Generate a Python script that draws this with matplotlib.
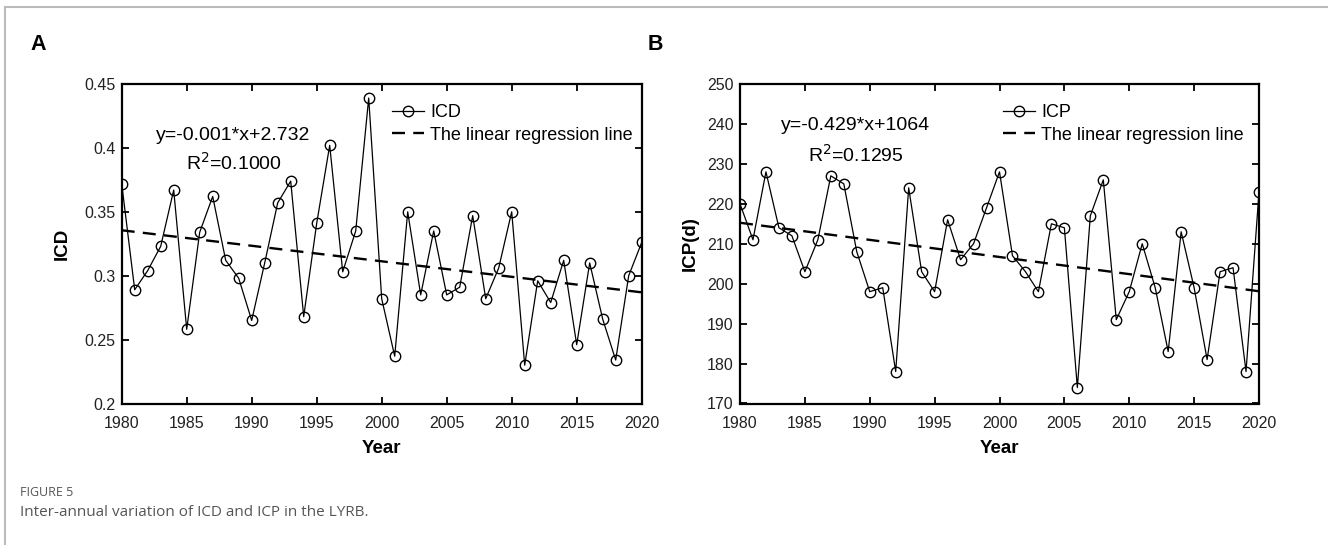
import numpy as np
import matplotlib
matplotlib.use("Agg")
import matplotlib.pyplot as plt
from matplotlib.lines import Line2D

plt.rcParams['font.family'] = ['Liberation Sans', 'DejaVu Sans']

years = list(range(1980, 2021))
icd = [0.372, 0.289, 0.304, 0.323, 0.367, 0.258, 0.334, 0.362, 0.312, 0.298,
       0.265, 0.310, 0.357, 0.374, 0.268, 0.341, 0.402, 0.303, 0.335, 0.439,
       0.282, 0.237, 0.350, 0.285, 0.335, 0.285, 0.291, 0.347, 0.282, 0.306,
       0.350, 0.230, 0.296, 0.279, 0.312, 0.246, 0.310, 0.266, 0.234, 0.300,
       0.326]
icp = [220, 211, 228, 214, 212, 203, 211, 227, 225, 208,
       198, 199, 178, 224, 203, 198, 216, 206, 210, 219,
       228, 207, 203, 198, 215, 214, 174, 217, 226, 191,
       198, 210, 199, 183, 213, 199, 181, 203, 204, 178,
       223]

panel_letters = ["A", "B"]
ylabels = ["ICD", "ICP(d)"]
series_names = ["ICD", "ICP"]
equations = ["y=-0.001*x+2.732", "y=-0.429*x+1064"]
r2_texts = ["R$^{2}$=0.1000", "R$^{2}$=0.1295"]
reg_label = "The linear regression line"
ylims = [(0.2, 0.45), (170, 250)]
yticks = [[0.2, 0.25, 0.3, 0.35, 0.4, 0.45], [170, 180, 190, 200, 210, 220, 230, 240, 250]]
yticklabels = [["0.2", "0.25", "0.3", "0.35", "0.4", "0.45"],
               ["170", "180", "190", "200", "210", "220", "230", "240", "250"]]
xticks = [1980, 1985, 1990, 1995, 2000, 2005, 2010, 2015, 2020]
caption_head = "FIGURE 5"
caption_text = "Inter-annual variation of ICD and ICP in the LYRB."

W, H = 1328, 545
fig = plt.figure(figsize=(W / 100, H / 100), dpi=100)

def px(x0, y0, x1, y1):
    return [x0 / W, 1 - y1 / H, (x1 - x0) / W, (y1 - y0) / H]

axes_px = [(121.7, 84, 641.7, 403.5), (740, 84, 1259, 403.5)]
data = [icd, icp]
eq_pos = [(1988.6, 0.410, 0.388), (1988.9, 239.6, 232.2)]
ylabel_x = [71, 699]
letter_x = [30, 648]

for i in range(2):
    ax = fig.add_axes(px(*axes_px[i]))
    y = np.array(data[i], dtype=float)
    x = np.array(years, dtype=float)
    ax.plot(x, y, color='black', lw=0.9, marker='o', ms=7.5, mfc='none',
            mec='black', mew=1.0, label=series_names[i])
    coef = np.polyfit(x, y, 1)
    ax.plot(x, np.polyval(coef, x), color='black', lw=1.7, ls=(0, (5.5, 3.5)),
            label=reg_label)
    ax.set_xlim(1980, 2020)
    ax.set_ylim(*ylims[i])
    ax.set_xticks(xticks)
    ax.set_xticklabels([str(t) for t in xticks], fontsize=11.5, color='#222222')
    ax.set_yticks(yticks[i])
    ax.set_yticklabels(yticklabels[i], fontsize=11.5, color='#222222')
    ax.tick_params(direction='in', length=5, width=1.3, top=True, right=True)
    ax.tick_params(axis='x', pad=8.7)
    ax.tick_params(axis='y', pad=4.5)
    for s in ax.spines.values():
        s.set_linewidth(1.6)
    ax.set_xlabel("Year", fontsize=13.5, fontweight='bold', labelpad=6.5)
    ax.set_ylabel(ylabels[i], fontsize=13.5, fontweight='bold')
    ax.yaxis.set_label_coords((ylabel_x[i] - axes_px[i][0]) / (axes_px[i][2] - axes_px[i][0]), 0.5)
    ex, ey1, ey2 = eq_pos[i]
    ax.text(ex, ey1, equations[i], fontsize=14, ha='center', va='center')
    ax.text(ex, ey2, r2_texts[i], fontsize=14, ha='center', va='center')
    lx = (392 - 121.7) / 520 if i == 0 else (1003 - 740) / 519
    ax.legend(loc='upper left', bbox_to_anchor=(lx, 0.937), frameon=False, fontsize=13,
              handlelength=1.75, handletextpad=0.35, labelspacing=0.3,
              borderpad=0, borderaxespad=0)
    fig.text(letter_x[i] / W, 1 - 45 / H, panel_letters[i], fontsize=15.5,
             fontweight='bold', ha='left', va='center')

# frame lines of the page
fig.add_artist(Line2D([5 / W, 1], [1 - 7 / H, 1 - 7 / H], color='#bbbbbb', lw=1.5))
fig.add_artist(Line2D([5 / W, 5 / W], [0, 1 - 7 / H], color='#bbbbbb', lw=1.5))

fig.text(20 / W, 1 - 493 / H, caption_head, fontsize=9, color='#555555',
         family=['Open Sans', 'DejaVu Sans'], va='center', ha='left')
fig.text(20 / W, 1 - 513 / H, caption_text, fontsize=11, color='#555555',
         family=['Open Sans', 'DejaVu Sans'], va='center', ha='left')

fig.savefig("out.png", dpi=100)
